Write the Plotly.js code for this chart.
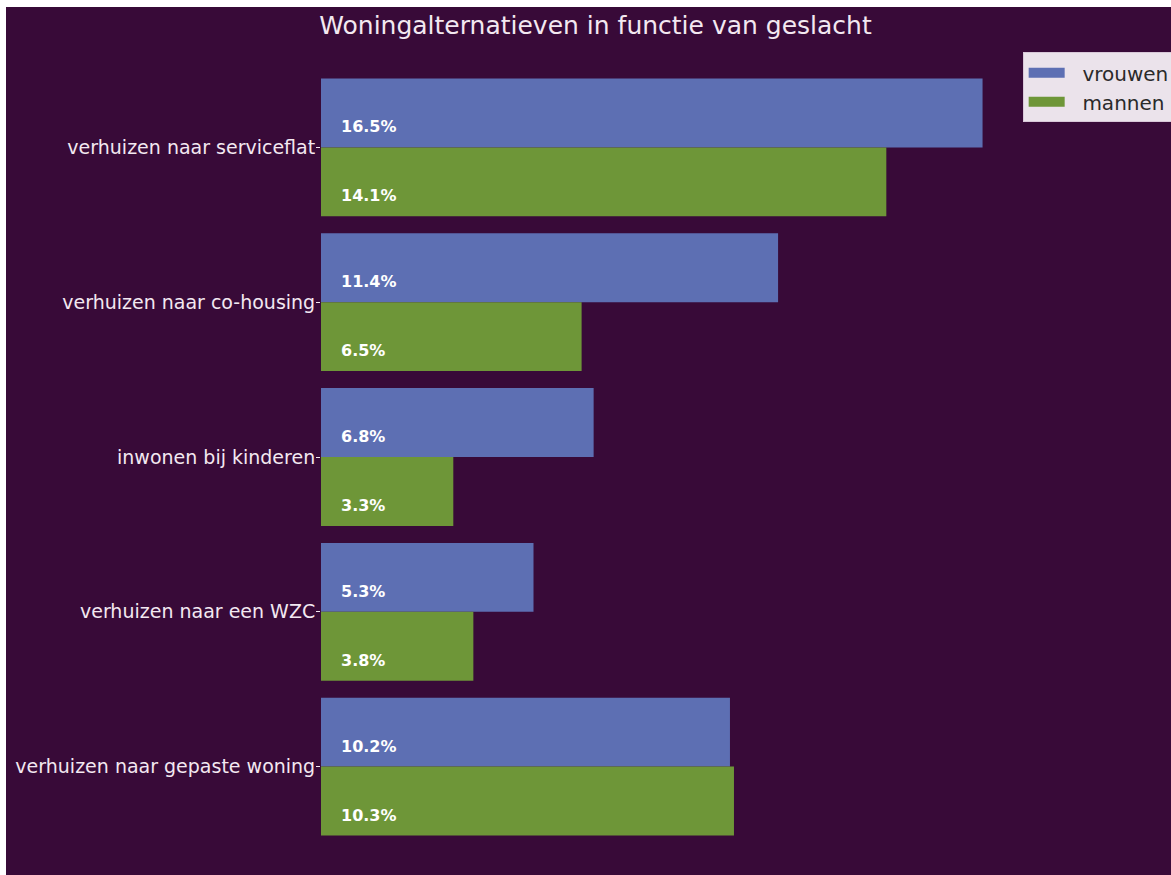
<!DOCTYPE html>
<html>
<head>
<meta charset="utf-8">
<script src="https://cdn.plot.ly/plotly-3.0.1.min.js"></script>
<style>
  html, body { margin: 0; padding: 0; background: #ffffff; }
  #chart { position: absolute; left: 6px; top: 7px; width: 1165px; height: 868px; overflow: hidden; }
</style>
</head>
<body>
<div id="chart"></div>
<script>
const categories = [
  "verhuizen naar serviceflat",
  "verhuizen naar co-housing",
  "inwonen bij kinderen",
  "verhuizen naar een WZC",
  "verhuizen naar gepaste woning"
];
const vrouwen = [16.5, 11.4, 6.8, 5.3, 10.2];
const mannen = [14.1, 6.5, 3.3, 3.8, 10.3];
const seriesNames = ["vrouwen", "mannen"];

const bg = "#380a38";
const txt = "#f3e8f1";
const blue = "#5d6fb3";
const green = "#6e9638";
const groupWidth = 0.89;
const half = groupWidth / 4;

const traces = [
  { type: "bar", orientation: "h", name: seriesNames[0], y: categories, x: vrouwen,
    marker: { color: blue }, hoverinfo: "none", showlegend: false },
  { type: "bar", orientation: "h", name: seriesNames[1], y: categories, x: mannen,
    marker: { color: green }, hoverinfo: "none", showlegend: false },
  // legend-only entries (wide swatches like the reference)
  { type: "scatter", mode: "lines", name: "\u00a0\u00a0" + seriesNames[0], x: [null], y: [null],
    line: { color: blue, width: 15 }, hoverinfo: "none" },
  { type: "scatter", mode: "lines", name: "\u00a0\u00a0" + seriesNames[1], x: [null], y: [null],
    line: { color: green, width: 15 }, hoverinfo: "none" }
];

const annotations = [];
[vrouwen, mannen].forEach((arr, s) => {
  arr.forEach((v, i) => {
    annotations.push({
      xref: "x", yref: "y", x: 0, y: i + (s === 0 ? -half : half),
      text: "<b>" + v.toFixed(1) + "%</b>", showarrow: false,
      xanchor: "left", yanchor: "middle", xshift: 18, yshift: -14,
      font: { family: "DejaVu Sans", size: 16, color: "#ffffff" }
    });
  });
});

const layout = {
  width: 1165, height: 868,
  paper_bgcolor: bg, plot_bgcolor: bg,
  margin: { l: 315, r: 0, t: 63, b: 31, autoexpand: false },
  barmode: "group", bargap: 1 - groupWidth, bargroupgap: 0,
  title: { text: "Woningalternatieven in functie van geslacht",
    x: 0.506, xref: "container", xanchor: "center",
    y: 0.979, yref: "container", yanchor: "middle",
    font: { family: "DejaVu Sans", size: 25, color: txt } },
  xaxis: { range: [0, 21.2], visible: false, showgrid: false, zeroline: false },
  yaxis: { type: "category", autorange: "reversed", showgrid: false, zeroline: false,
    ticks: "outside", ticklen: 4, tickcolor: txt, showline: false, ticklabelstandoff: -3,
    tickfont: { family: "DejaVu Sans", size: 19, color: txt } },
  legend: { x: 0.8255, y: 1.023, xanchor: "left", yanchor: "top", traceorder: "normal",
    bgcolor: "rgba(242,234,242,0.97)", bordercolor: "#d8c8d8", borderwidth: 1,
    itemwidth: 36, tracegroupgap: 0,
    font: { family: "DejaVu Sans", size: 20, color: "#2a2a2a" } },
  annotations: annotations,
  showlegend: true
};

Plotly.newPlot("chart", traces, layout, { staticPlot: true, displayModeBar: false });
</script>
</body>
</html>
